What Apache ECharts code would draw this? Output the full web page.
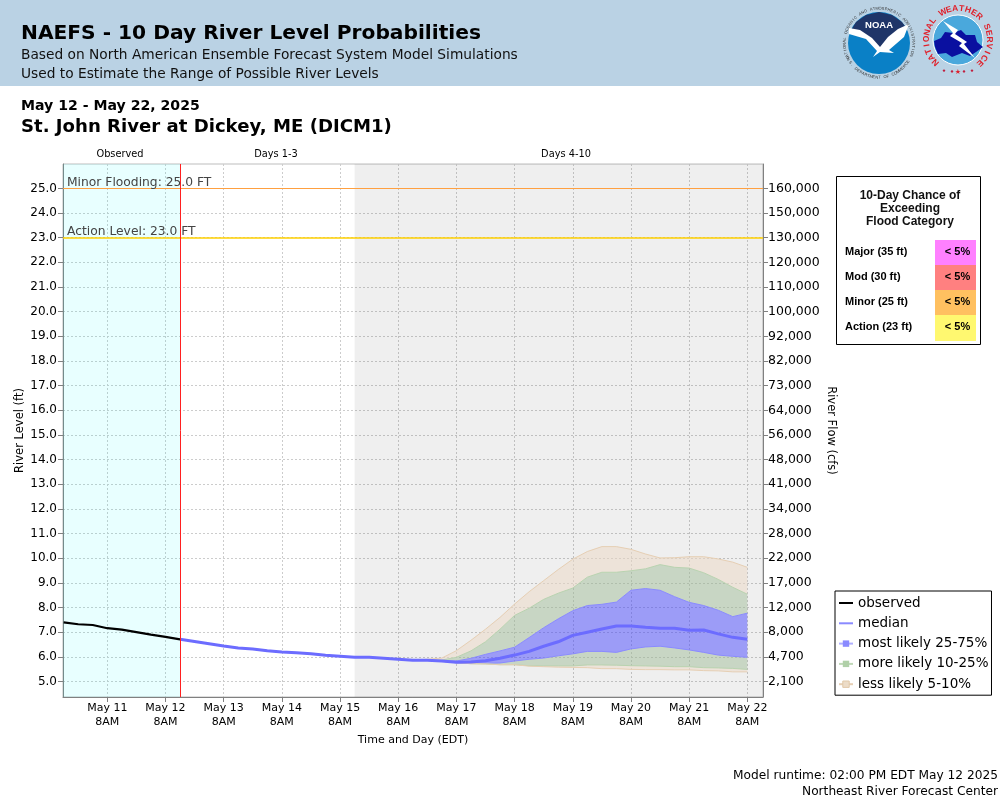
<!DOCTYPE html>
<html><head><meta charset="utf-8">
<style>html,body{margin:0;padding:0;background:#fff}#c{width:1000px;height:800px}</style>
<script src="https://cdn.jsdelivr.net/npm/echarts@6/dist/echarts.min.js"></script>
</head><body><div id="c"></div>
<script>
const SANS = '"DejaVu Sans"', ARIAL = '"Liberation Sans"';
const t = (d, h) => Date.UTC(2025, 4, d, h);

const stageTicks = [5,6,7,8,9,10,11,12,13,14,15,16,17,18,19,20,21,22,23,24,25];
const flowLabels = ['2,100','4,700','8,000','12,000','17,000','22,000','28,000','34,000','41,000','48,000','56,000','64,000','73,000','82,000','92,000','100,000','110,000','120,000','130,000','150,000','160,000'];
const tickDays = [11,12,13,14,15,16,17,18,19,20,21,22];

const observedValues = [7.40,7.32,7.29,7.16,7.10,7.00,6.90,6.81,6.71];
const medianValues = [6.71,6.62,6.53,6.44,6.36,6.32,6.25,6.20,6.16,6.12,6.06,6.02,5.98,5.98,5.94,5.90,5.86,5.86,
  5.83,5.78,5.79,5.84,5.94,6.07,6.22,6.43,6.61,6.87,7.00,7.13,7.25,7.25,7.20,7.16,7.16,7.08,7.09,6.93,6.79,6.71];
const p5  = [5.86,5.90,5.95,6.25,6.67,7.12,7.60,8.14,8.64,9.09,9.54,9.96,10.27,10.47,10.47,10.36,10.17,10.01,10.02,10.06,10.06,9.97,9.84,9.63];
const p10 = [5.86,5.87,5.87,5.98,6.24,6.61,7.12,7.68,7.97,8.33,8.58,8.79,9.23,9.43,9.43,9.49,9.57,9.74,9.63,9.60,9.41,9.14,8.82,8.54];
const p25 = [5.86,5.86,5.84,5.83,5.94,6.10,6.24,6.39,6.78,7.18,7.54,7.87,8.08,8.13,8.22,8.70,8.77,8.70,8.44,8.21,8.08,7.89,7.63,7.77];
const p75 = [5.86,5.86,5.82,5.76,5.74,5.74,5.75,5.83,5.90,5.95,6.04,6.12,6.22,6.22,6.18,6.32,6.40,6.43,6.36,6.28,6.18,6.07,6.02,5.98];
const p90 = [5.86,5.86,5.82,5.76,5.72,5.71,5.68,5.68,5.64,5.63,5.63,5.63,5.67,5.67,5.66,5.64,5.63,5.62,5.60,5.60,5.56,5.55,5.53,5.49];
const p95 = [5.86,5.86,5.82,5.76,5.72,5.71,5.68,5.68,5.62,5.60,5.58,5.57,5.56,5.52,5.52,5.49,5.48,5.48,5.47,5.47,5.44,5.43,5.39,5.39];

const observedStart = t(10,14), medianStart = t(12,14), bandStart = t(16,14), SIX = 6*3600*1000;
const nowTime = t(12,14), greyStart = t(15,14);
const xMin = Date.UTC(2025,4,10,13,44), xMax = Date.UTC(2025,4,22,14,28);
const yMin = 4.37, yMax = 25.99;

const series6h = (start, vals) => vals.map((v,i)=>[start+i*SIX, v]);

const BLUE_F='rgba(73,73,255,.5)', GREEN_F='rgba(161,189,153,.5)', TAN_F='rgba(235,219,201,.6)';
const BLUE_L='#8a8aff', GREEN_L='#b9d3b0', TAN_L='#e6cfb4', MED='#6c6cff';

// filled band between two percentile curves, projected through the chart's axes
function fill(id, hi, lo, color){
  const rows = hi.map((v,i)=>[bandStart+i*SIX, lo[i], v]);
  return {type:'custom', name:id, data:rows, encode:{x:0,y:[1,2]}, silent:true, z:3,
    renderItem:(p,api)=> p.dataIndex ? null : {type:'polygon',
      shape:{points:[...rows.map(r=>api.coord([r[0],r[2]])), ...rows.slice().reverse().map(r=>api.coord([r[0],r[1]]))]},
      style:{fill:color}}};
}
const edge = (name, vals, color) => ({type:'line', name, data:series6h(bandStart,vals), symbol:'rect', showSymbol:false,
  silent:true, z:4, lineStyle:{color,width:1}, itemStyle:{color}});

// reference line: held by a carrier series, drawn by its markLine
function rule(name, mark, color, label, width){
  const item = Object.assign({}, mark, {label: label
    ? {show:true,position:'insideStartTop',distance:[4,0],formatter:label,fontSize:12.3,color:'#444',fontFamily:SANS}
    : {show:false}});
  return {type:'line', name, data:[], symbol:'none', silent:true, z:8, lineStyle:{color,width:1},
    markLine:{silent:true,symbol:'none',animation:false,z:8,lineStyle:{color,width:width||1,type:'solid'},data:[item]}};
}

// ---------- static page furniture ----------
const g = [];
const txt = (x,y,text,font,fill,align,extra) => g.push(Object.assign({type:'text',silent:true,z:20,
  style:{x,y,text,font,fill:fill||'#000',textAlign:align||'left',textVerticalAlign:'middle'}},extra||{}));
const poly = (points,fill,z,smooth) => g.push({type:'polygon',silent:true,z:z||21,shape:{points,smooth:smooth||0},style:{fill}});
g.push({type:'rect',silent:true,z:1,shape:{x:0,y:0,width:1000,height:86},style:{fill:'#bad2e4'}});
txt(21,34,'NAEFS - 10 Day River Level Probabilities','bold 20.2px '+SANS);
txt(21,55,'Based on North American Ensemble Forecast System Model Simulations','13.75px '+SANS,'#111');
txt(21,74,'Used to Estimate the Range of Possible River Levels','13.75px '+SANS,'#111');
txt(21,106,'May 12 - May 22, 2025','bold 14.1px '+SANS);
txt(21,127,'St. John River at Dickey, ME (DICM1)','bold 18.1px '+SANS);
txt(120,154,'Observed','9.8px '+SANS,'#000','center');
txt(276,154,'Days 1-3','9.8px '+SANS,'#000','center');
txt(566,154,'Days 4-10','9.8px '+SANS,'#000','center');
txt(998,776,'Model runtime: 02:00 PM EDT May 12 2025','12.2px '+SANS,'#000','right');
txt(998,792,'Northeast River Forecast Center','12.2px '+SANS,'#000','right');

// flood chance box
const chanceRows = [['Major (35 ft)','< 5%','#ff80ff'],['Mod (30 ft)','< 5%','#ff8080'],['Minor (25 ft)','< 5%','#ffc060'],['Action (23 ft)','< 5%','#fff870']];
g.push({type:'rect',silent:true,z:5,shape:{x:836.5,y:176.5,width:144,height:168},style:{fill:'#fff',stroke:'#000',lineWidth:1}});
['10-Day Chance of','Exceeding','Flood Category'].forEach((s,i)=>txt(910,196+i*13,s,'bold 12px '+ARIAL,'#111','center'));
chanceRows.forEach((r,i)=>{
  g.push({type:'rect',silent:true,z:6,shape:{x:935,y:240+i*25,width:41,height:i==3?26:25},style:{fill:r[2]}});
  txt(845,252+i*25,r[0],'bold 11px '+ARIAL);
  txt(957.5,252+i*25,r[1],'bold 11px '+ARIAL,'#000','center');
});

// logos
function ring(cx,cy,r,str,a0,step,font,fill,flip){
  [...str].forEach((ch,i)=>{
    const a=(a0+i*step)*Math.PI/180;
    g.push({type:'text',silent:true,z:22,x:cx+r*Math.sin(a),y:cy-r*Math.cos(a),rotation:-a+(flip?Math.PI:0),
      style:{x:0,y:0,text:ch,font,fill,textAlign:'center',textVerticalAlign:'middle'}});
  });
}
g.push({type:'circle',silent:true,z:20,shape:{cx:879,cy:43,r:31},style:{fill:'#0a80c6'}});
poly([[850,32],[856,22],[866,15],[879,12],[892,15],[902,22],[907,29],[895,34],[880,48],[868,37]],'#1f3568');
poly([[849,28],[860,30],[872,38],[880,47],[888,37],[898,29],[909,24],[904,37],[889,50],[894,53],[880,52],[873,57],[877,51],[866,39],[849,34]],'#fff');
txt(879,25,'NOAA','bold 9.5px '+ARIAL,'#fff','center',{z:22});
ring(879,43,34.5,'NATIONAL OCEANIC AND ATMOSPHERIC ADMINISTRATION',-117,4.95,'4px '+ARIAL,'#333');
ring(879,43,34.5,'U.S. DEPARTMENT OF COMMERCE',245,-4.7,'4px '+ARIAL,'#333',true);
g.push({type:'circle',silent:true,z:20,shape:{cx:958,cy:40,r:25},style:{fill:'#4aa8dc',stroke:'#fff',lineWidth:1}});
poly([[935,47],[934,41],[941,38],[945,32],[953,33],[961,30],[966,35],[975,35],[977,42],[983,47],[976,52],[970,56],[962,53],[952,57],[946,53],[938,54]],'#0a10a0',21);
poly([[943,21],[958,30],[955,34],[967,42],[964,44],[975,58],[959,46],[962,43],[950,36],[953,33]],'#fff',22);
ring(958,40,31.5,'NATIONAL WEATHER SERVICE',-135,11.8,'bold 8.5px '+ARIAL,'#e0202a');
[[-14,1.2],[-6,1.2],[6,1.2],[14,1.2]].forEach(p=>g.push({type:'circle',silent:true,z:22,shape:{cx:958+p[0],cy:72-Math.abs(p[0])*0.1,r:p[1]},style:{fill:'#c02040'}}));
txt(958,72,'★','7px '+SANS,'#e0202a','center',{z:22});

const legendData = [
  {name:'observed', itemStyle:{opacity:0}, lineStyle:{color:'#000',width:2}},
  {name:'median', itemStyle:{opacity:0}, lineStyle:{color:'#8a8aff',width:2}},
  {name:'most likely 25-75%', itemStyle:{color:'#8a8aff',borderWidth:0}, lineStyle:{color:'#b0b0ff',width:2}},
  {name:'more likely 10-25%', itemStyle:{color:'#b0d0a8',borderWidth:0}, lineStyle:{color:'#c0d8b8',width:2}},
  {name:'less likely 5-10%', itemStyle:{color:'#ecdcc8',borderColor:'#e0c8a8',borderWidth:1}, lineStyle:{color:'#e6cfb4',width:2}}
];

const chart = echarts.init(document.getElementById('c'), null, {renderer:'canvas'});
chart.setOption({
  animation:false, backgroundColor:'#fff',
  textStyle:{fontFamily:SANS},
  grid:{left:63,top:164,width:700,height:533,outerBoundsMode:'none',show:true,borderColor:'#bdbdbd',borderWidth:1,backgroundColor:'transparent'},
  legend:{orient:'vertical',left:835,top:591,padding:[5,3,4,3],itemWidth:14,itemHeight:8,itemGap:6.3,
    backgroundColor:'#fff',borderColor:'#000',borderWidth:1,selectedMode:false,
    textStyle:{fontFamily:SANS,fontSize:13.5,color:'#000'},data:legendData},
  xAxis:{type:'value',min:xMin,max:xMax,name:'Time and Day (EDT)',nameLocation:'middle',nameGap:38,
    nameMoveOverlap:false,
    nameTextStyle:{fontSize:11,color:'#000',fontFamily:SANS},
    axisLine:{show:true,lineStyle:{color:'#808080',width:1}},
    axisTick:{show:true,length:5,lineStyle:{color:'#808080'},customValues:tickDays.map(d=>t(d,8))},
    axisLabel:{fontSize:11,color:'#000',lineHeight:14,margin:4,hideOverlap:false,
      customValues:tickDays.map(d=>t(d,8)),
      formatter:v=>'May '+new Date(v).getUTCDate()+'\n8AM'},
    splitLine:{show:true,lineStyle:{color:'#cccccc',type:[2,2],width:1}}},
  yAxis:[
    {type:'value',min:yMin,max:yMax,position:'left',name:'River Level (ft)',nameLocation:'middle',nameGap:37,
      nameMoveOverlap:false,
      nameTextStyle:{fontSize:11.5,color:'#000',fontFamily:SANS},
      axisLine:{show:true,lineStyle:{color:'#808080'}},
      axisTick:{show:true,length:5,lineStyle:{color:'#808080'},customValues:stageTicks},
      axisLabel:{fontSize:12,color:'#000',margin:6,padding:[2,0,0,0],customValues:stageTicks,formatter:v=>v.toFixed(1)},
      splitLine:{show:true,lineStyle:{color:'#cccccc',type:[2,2],width:1}}},
    {type:'value',min:yMin,max:yMax,position:'right',name:'River Flow (cfs)',nameLocation:'middle',nameGap:62,nameRotate:-90,
      nameMoveOverlap:false,
      nameTextStyle:{fontSize:11.5,color:'#000',fontFamily:SANS},
      axisLine:{show:true,lineStyle:{color:'#808080'}},
      axisTick:{show:true,length:5,lineStyle:{color:'#808080'},customValues:stageTicks},
      axisLabel:{fontSize:12.5,color:'#000',margin:5,padding:[2,0,0,0],customValues:stageTicks,formatter:v=>flowLabels[stageTicks.indexOf(Math.round(v))]},
      splitLine:{show:false}}
  ],
  series:[
    fill('fill tan low', p90, p95, TAN_F),
    fill('fill green low', p75, p90, GREEN_F),
    fill('fill blue', p25, p75, BLUE_F),
    fill('fill green high', p10, p25, GREEN_F),
    fill('fill tan high', p5, p10, TAN_F),
    edge('most likely 25-75%', p25, BLUE_L),
    edge('most likely 25-75%', p75, BLUE_L),
    edge('more likely 10-25%', p10, GREEN_L),
    edge('more likely 10-25%', p90, GREEN_L),
    edge('less likely 5-10%', p5, TAN_L),
    edge('less likely 5-10%', p95, TAN_L),
    {type:'line',name:'median',data:series6h(medianStart,medianValues),symbol:'none',z:6,silent:true,
      lineStyle:{color:MED,width:3},itemStyle:{color:MED}},
    {type:'line',name:'observed',data:series6h(observedStart,observedValues),symbol:'none',z:7,silent:true,
      lineStyle:{color:'#000',width:2.2},itemStyle:{color:'#000'},
      markArea:{silent:true,z:1,data:[
        [{xAxis:xMin,itemStyle:{color:'rgba(0,255,255,.09)'}},{xAxis:nowTime}],
        [{xAxis:greyStart,itemStyle:{color:'rgba(0,0,0,.063)'}},{xAxis:xMax}]
      ]}},
    rule('Minor Flooding', {yAxis:25}, '#ffa040', 'Minor Flooding: 25.0 FT'),
    rule('Action Level', {yAxis:23}, '#ffd000', 'Action Level: 23.0 FT', 1.6),
    rule('Forecast start', {xAxis:nowTime}, '#ff2020')
  ],
  graphic:{elements:g}
});
</script></body></html>
